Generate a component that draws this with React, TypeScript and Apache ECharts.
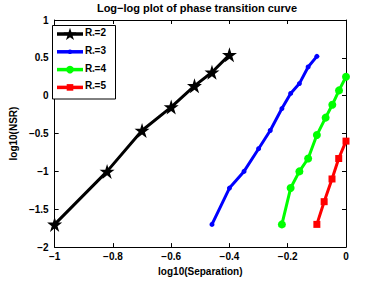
import React, { useEffect, useRef } from "react";
import * as echarts from "echarts";

const titleText = "Log−log plot of phase transition curve";
const xName = "log10(Separation)";
const yName = "log10(NSR)";
const seriesNames = ["R*=2", "R*=3", "R*=4", "R*=5"];

const r2X = [-1, -0.82, -0.7, -0.6, -0.52, -0.46, -0.4];
const r2Y = [-1.7, -1.0, -0.46, -0.15, 0.13, 0.31, 0.54];

const r3X = [-0.46, -0.4, -0.35, -0.3, -0.26, -0.22, -0.19, -0.16, -0.13, -0.1];
const r3Y = [-1.7, -1.22, -1.0, -0.7, -0.46, -0.17, 0.03, 0.16, 0.38, 0.52];

const r4X = [-0.22, -0.19, -0.16, -0.13, -0.1, -0.07, -0.047, -0.024, 0];
const r4Y = [-1.7, -1.22, -1.0, -0.83, -0.52, -0.29, -0.12, 0.07, 0.25];

const r5X = [-0.1, -0.075, -0.048, -0.025, 0];
const r5Y = [-1.7, -1.4, -1.1, -0.83, -0.6];

const colors = ["#000000", "#0000ff", "#00ff00", "#ff0000"];
const markers = ["star", "dot", "circle", "square"];

function starPoints(cx: number, cy: number, R: number): number[][] {
  const r = R * 0.382;
  const pts: number[][] = [];
  for (let k = 0; k < 10; k++) {
    const a = (k * 36 * Math.PI) / 180;
    const rad = k % 2 === 0 ? R : r;
    pts.push([cx + rad * Math.sin(a), cy - rad * Math.cos(a)]);
  }
  return pts;
}
const starSymbol =
  "path://" +
  starPoints(0, 0, 10)
    .map((p, i) => `${i === 0 ? "M" : "L"}${p[0].toFixed(3)},${p[1].toFixed(3)}`)
    .join("") +
  "Z";

const zip = (xs: number[], ys: number[]) => xs.map((x, i) => [x, ys[i]]);

export default function App() {
  const ref = useRef<HTMLDivElement>(null);
  useEffect(() => {
    if (!ref.current) return;
    const chart = echarts.init(ref.current, null, { renderer: "svg" });
    const font = "Liberation Sans";
    const axisCommon = {
      axisLine: { show: true, onZero: false, lineStyle: { color: "#000", width: 1 } },
      axisTick: { show: true, inside: true, length: 4, lineStyle: { color: "#000" } },
      splitLine: { show: false },
    };
    const mk = (name: string, data: number[][], color: string, symbol: string, size: number) => ({
      type: "line",
      name,
      data,
      symbol,
      symbolSize: size,
      showSymbol: true,
      lineStyle: { color, width: 3 },
      itemStyle: { color, borderWidth: 0 },
      z: 3,
    });

    // legend drawn as graphics (box in the upper-left corner of the axes)
    const box = { x: 52.5, y: 25.5, w: 63, h: 73.5 };
    const rowY0 = 34;
    const rowStep = 17.8;
    const lineX1 = 57;
    const lineX2 = 83;
    const symX = 70;
    const textX = 85;
    const legendEls: any[] = [
      {
        type: "rect",
        shape: { x: box.x, y: box.y, width: box.w, height: box.h },
        style: { fill: "#fff", stroke: "#000", lineWidth: 1 },
        z: 10,
      },
    ];
    seriesNames.forEach((name, i) => {
      const y = rowY0 + i * rowStep;
      const c = colors[i];
      legendEls.push({
        type: "line",
        shape: { x1: lineX1, y1: y, x2: lineX2, y2: y },
        style: { stroke: c, lineWidth: 3.5 },
        z: 11,
      });
      const m = markers[i];
      if (m === "star") {
        legendEls.push({ type: "polygon", shape: { points: starPoints(symX, y + 0.6, 6.8) }, style: { fill: c }, z: 12 });
      } else if (m === "dot") {
        legendEls.push({ type: "circle", shape: { cx: symX, cy: y, r: 2.3 }, style: { fill: c }, z: 12 });
      } else if (m === "circle") {
        legendEls.push({ type: "circle", shape: { cx: symX, cy: y, r: 3.8 }, style: { fill: c }, z: 12 });
      } else {
        legendEls.push({ type: "rect", shape: { x: symX - 3.3, y: y - 3.3, width: 6.6, height: 6.6 }, style: { fill: c }, z: 12 });
      }
      const parts = name.split("*");
      legendEls.push({
        type: "text",
        x: textX,
        y: y - 1.5,
        z: 12,
        style: {
          text: `{a|${parts[0]}}{s|*}{a|${parts[1]}}`,
          verticalAlign: "middle",
          align: "left",
          rich: {
            a: { fontFamily: font, fontSize: 10, fontWeight: "bold", fill: "#000", color: "#000" },
            s: { fontFamily: font, fontSize: 6, fontWeight: "bold", fill: "#000", color: "#000", padding: [7, 0, 0, 0] },
          },
        },
      });
    });

    chart.setOption({
      animation: false,
      backgroundColor: "#fff",
      title: {
        text: titleText,
        left: 197,
        textAlign: "center",
        top: 2,
        padding: 0,
        textStyle: { fontFamily: font, fontSize: 11, fontWeight: "bold", color: "#000" },
      },
      graphic: { elements: legendEls },
      grid: { left: 49, right: 36, top: 20, bottom: 32 },
      xAxis: [
        {
          type: "value",
          min: -1,
          max: 0,
          interval: 0.2,
          position: "bottom",
          ...axisCommon,
          axisLabel: {
            fontFamily: font,
            fontSize: 10,
            fontWeight: "bold",
            color: "#000",
            margin: 4,
            formatter: (v: number) => (Math.abs(v) < 1e-9 ? "0" : String(Number(v.toFixed(1))).replace("-", "−")),
          },
          name: xName,
          nameLocation: "middle",
          nameGap: 17,
          nameTextStyle: { fontFamily: font, fontSize: 10, fontWeight: "bold", color: "#000" },
        },
        {
          type: "value",
          min: -1,
          max: 0,
          interval: 0.2,
          position: "top",
          ...axisCommon,
          axisLabel: { show: false },
        },
      ],
      yAxis: [
        {
          type: "value",
          min: -2,
          max: 1,
          interval: 0.5,
          position: "left",
          ...axisCommon,
          axisLabel: {
            fontFamily: font,
            fontSize: 10,
            fontWeight: "bold",
            color: "#000",
            margin: 6,
            formatter: (v: number) => String(v).replace("-", "−"),
          },
          name: yName,
          nameLocation: "middle",
          nameGap: 32,
          nameRotate: 90,
          nameTextStyle: { fontFamily: font, fontSize: 10, fontWeight: "bold", color: "#000" },
        },
        {
          type: "value",
          min: -2,
          max: 1,
          interval: 0.5,
          position: "right",
          ...axisCommon,
          axisLabel: { show: false },
        },
      ],
      series: [
        mk(seriesNames[0], zip(r2X, r2Y), colors[0], starSymbol, 15),
        mk(seriesNames[1], zip(r3X, r3Y), colors[1], "circle", 5),
        mk(seriesNames[2], zip(r4X, r4Y), colors[2], "circle", 8),
        mk(seriesNames[3], zip(r5X, r5Y), colors[3], "rect", 7),
      ],
    });
    return () => chart.dispose();
  }, []);
  return (
    <div
      ref={ref}
      style={{ position: "fixed", left: 0, top: 0, width: 382, height: 281, background: "#fff" }}
    />
  );
}
